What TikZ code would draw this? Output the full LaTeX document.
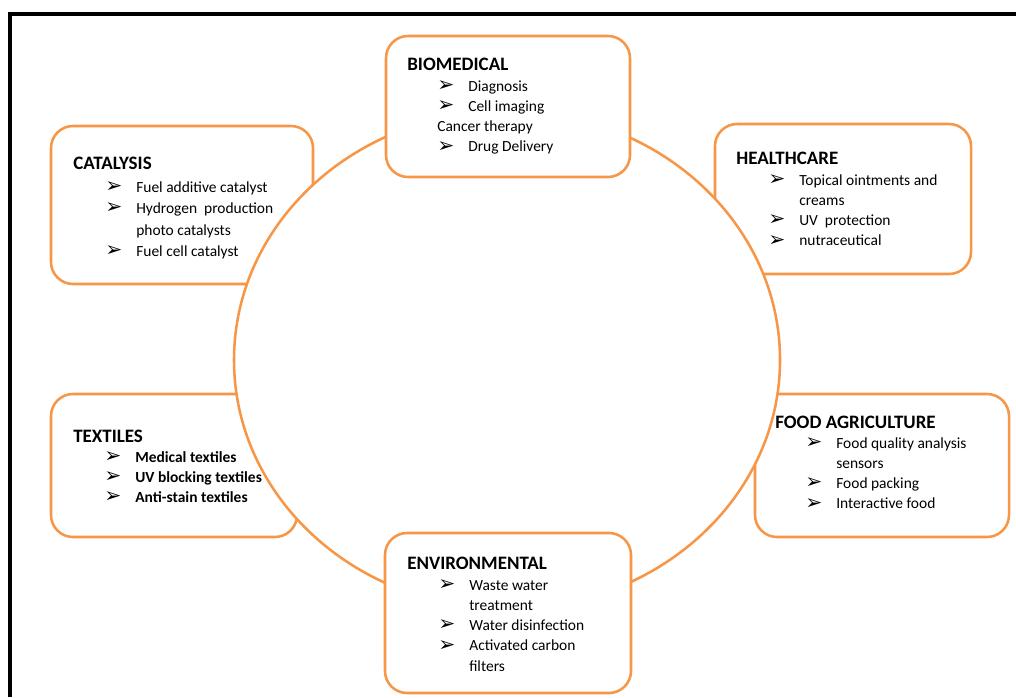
\documentclass[tikz,border=0pt]{standalone}
\usepackage{fontspec}
\setmainfont{Carlito}
\newfontfamily\symbole{DejaVu Sans}
\usetikzlibrary{shapes.geometric}
\definecolor{orangebord}{HTML}{F79646}
\newcommand{\Puce}{{\symbole\bfseries\fontsize{14.5}{10}\selectfont\raisebox{-0.3pt}{➢}}}
\begin{document}
\begin{tikzpicture}[x=0.025cm,y=-0.025cm]
	\tikzstyle{boite}=[draw=orangebord,line width=1.8pt,fill=white,rounded corners=0.55cm,inner sep=0pt]
	\tikzstyle{rond}=[draw=orangebord,line width=1.8pt,fill=white,ellipse,inner sep=0pt]
	\tikzstyle{titre}=[anchor=base west,inner sep=0pt,font=\fontsize{13.5}{14}\selectfont\bfseries]
	\tikzstyle{liste}=[anchor=base west,inner sep=0pt,font=\fontsize{11}{14.4}\selectfont]
	\def\Pas{0.025cm}
	\def\Col{0.775cm}
	\useasboundingbox (0,0) rectangle (1016,697);
	% cadre
	\draw[line width=2.85pt] (10,697) -- (10,14) -- (1016,14);
	% boites coupees par le cercle
	\node[boite,minimum width={262*\Pas},minimum height={158*\Pas}] (Cat) at (182,205) {};
	\node[boite,minimum width={256*\Pas},minimum height={150*\Pas}] (Sante) at (843,199) {};
	\node[boite,minimum width={246*\Pas},minimum height={143*\Pas}] (Textile) at (174,465.5) {};
	\node[boite,minimum width={254*\Pas},minimum height={143*\Pas}] (Agri) at (882,465.5) {};
	% cercle
	\node[rond,minimum width={546*\Pas},minimum height={498*\Pas}] (Cercle) at (507,360) {};
	% boites sur le cercle
	\node[boite,minimum width={244*\Pas},minimum height={141*\Pas}] (Bio) at (508,106.5) {};
	\node[boite,minimum width={246*\Pas},minimum height={160*\Pas}] (Env) at (508,613) {};
	% textes
	\node[titre] (BioT) at (407,70) {BIOMEDICAL};
	\node[liste] (BioL) at (437,91) {\begin{tabular}[t]{@{}p{\Col}@{}l@{}}
		\Puce & Diagnosis\\
		\Puce & Cell imaging\\
		\multicolumn{2}{@{}l@{}}{Cancer therapy}\\
		\Puce & Drug Delivery
	\end{tabular}};
	\node[titre] (CatT) at (73,169) {CATALYSIS};
	\node[liste,font=\fontsize{11}{15.3}\selectfont] (CatL) at (105,192) {\begin{tabular}[t]{@{}p{\Col}@{}l@{}}
		\Puce & Fuel additive catalyst\\
		\Puce & Hydrogen\ \ production\\
		& photo catalysts\\
		\Puce & Fuel cell catalyst
	\end{tabular}};
	\node[titre] (SanteT) at (736,164) {HEALTHCARE};
	\node[liste] (SanteL) at (768,185) {\begin{tabular}[t]{@{}p{\Col}@{}l@{}}
		\Puce & Topical ointments and\\
		& creams\\
		\Puce & UV\ \ protection\\
		\Puce & nutraceutical
	\end{tabular}};
	\node[titre] (TextileT) at (73,442) {TEXTILES};
	\node[liste] (TextileL) at (104,462) {\begin{tabular}[t]{@{}p{\Col}@{}l@{}}
		\Puce & \textbf{Medical textiles}\\
		\Puce & \textbf{UV blocking textiles}\\
		\Puce & \textbf{Anti-stain textiles}
	\end{tabular}};
	\node[titre] (AgriT) at (775,428) {FOOD AGRICULTURE};
	\node[liste] (AgriL) at (805,448) {\begin{tabular}[t]{@{}p{\Col}@{}l@{}}
		\Puce & Food quality analysis\\
		& sensors\\
		\Puce & Food packing\\
		\Puce & Interactive food
	\end{tabular}};
	\node[titre] (EnvT) at (407,569) {ENVIRONMENTAL};
	\node[liste] (EnvL) at (438,590) {\begin{tabular}[t]{@{}p{\Col}@{}l@{}}
		\Puce & Waste water\\
		& treatment\\
		\Puce & Water disinfection\\
		\Puce & Activated carbon\\
		& filters
	\end{tabular}};
\end{tikzpicture}
\end{document}
